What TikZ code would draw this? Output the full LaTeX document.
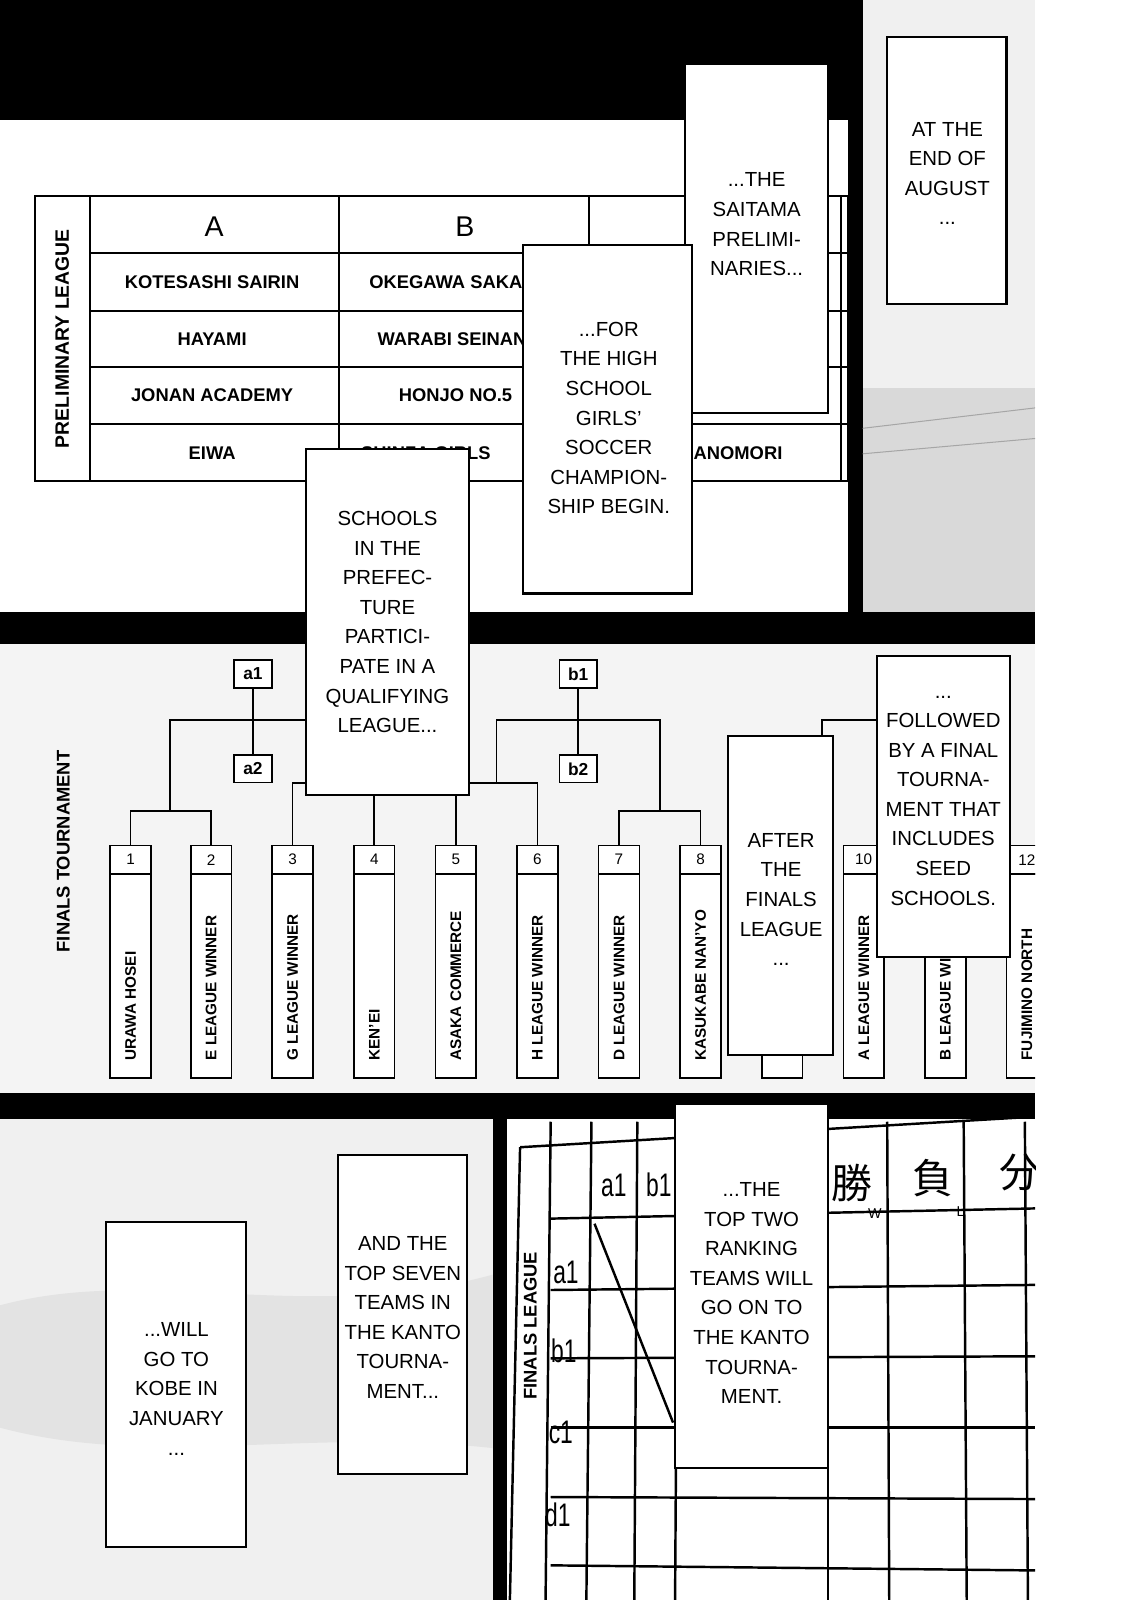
\documentclass[tikz,border=0pt]{standalone}
\usepackage{fontspec}
\setmainfont{Liberation Sans}
\newfontfamily\jpfont{Noto Sans CJK JP}
\begin{document}
\begin{tikzpicture}[x=1pt,y=-1pt,
  bub/.style={draw,line width=2pt,fill=white},
  btxt/.style={align=center,font=\fontsize{20}{29}\selectfont,inner sep=0},
  cell/.style={font=\bfseries\fontsize{18}{20}\selectfont,inner sep=0},
  tl/.style={line width=2pt},
  team/.style={draw,line width=1.6pt,fill=white},
  tname/.style={rotate=90,font=\bfseries\fontsize{15}{18}\selectfont,inner sep=0},
  tnum/.style={font=\fontsize{15}{18}\selectfont,inner sep=0},
  gl/.style={line width=2.4pt}]
\useasboundingbox (0,0) rectangle (1102,1569);
\fill[black] (0,0) rectangle (1102,1569);
\fill[white] (1015,0) rectangle (1102,1569);
% panel 1
\fill[white] (0,118) rectangle (832,600);
\fill[gray!12] (846,0) rectangle (1015,600);
\fill[gray!30] (846,380) rectangle (1015,600);
\draw[line width=1pt,gray!70] (846,420) -- (1015,400) (846,445) -- (1015,430);
\draw[tl] (34,192) rectangle (832,472);
\foreach \x in {88,332,578,825} \draw[tl] (\x,192) -- (\x,472);
\foreach \y in {248,305,360,416} \draw[tl] (88,\y) -- (832,\y);
\node[rotate=90,font=\bfseries\fontsize{19}{22}\selectfont] (pl) at (61,332) {PRELIMINARY LEAGUE};
\node[font=\fontsize{28}{30}\selectfont] (hA) at (210,222) {A};
\node[font=\fontsize{28}{30}\selectfont] (hB) at (456,222) {B};
\node[cell] (a1c) at (208,277) {KOTESASHI SAIRIN};
\node[cell] (a2c) at (208,333) {HAYAMI};
\node[cell] (a3c) at (208,388) {JONAN ACADEMY};
\node[cell] (a4c) at (208,444) {EIWA};
\node[cell,anchor=west] (b1c) at (362,277) {OKEGAWA SAKAE};
\node[cell,anchor=west] (b2c) at (370,333) {WARABI SEINAN};
\node[cell,anchor=west] (b3c) at (391,388) {HONJO NO.5};
\node[cell,anchor=west] (b4c) at (354,444) {SHINZA GIRLS};
\node[cell,anchor=west] (c4c) at (680,444) {ANOMORI};
% bubbles top
\draw[bub] (870,36) rectangle (987,298);
\node[btxt] (t1) at (929,170) {AT THE\\END OF\\AUGUST\\...};
\draw[bub] (672,63) rectangle (812,405);
\node[btxt] (t2) at (742,220) {...THE\\SAITAMA\\PRELIMI-\\NARIES...};
\draw[bub] (513,240) rectangle (679,582);
\node[btxt] (t3) at (597,410) {...FOR\\THE HIGH\\SCHOOL\\GIRLS'\\SOCCER\\CHAMPION-\\SHIP BEGIN.};
% middle panel
\fill[gray!9] (0,632) rectangle (1015,1072);
\begin{scope}
\clip (0,632) rectangle (1015,1072);
\node[rotate=90,font=\bfseries\fontsize{18}{22}\selectfont] (ft) at (62,835) {FINALS TOURNAMENT};
\draw[line width=1.6pt] (128,829) -- (128,795) -- (207,795) -- (207,829)
  (167,795) -- (167,706) -- (327,706) -- (327,768)
  (287,829) -- (287,768) -- (367,768) -- (367,829)
  (447,829) -- (447,768) -- (527,768) -- (527,829)
  (487,768) -- (487,706) -- (647,706) -- (647,795)
  (607,829) -- (607,795) -- (687,795) -- (687,829)
  (806,735) -- (806,706) -- (860,706);
\node[draw,line width=1.6pt,fill=white,minimum width=37,minimum height=27,font=\bfseries\fontsize{17}{18}\selectfont] (ka1) at (248,661) {a1};
\node[draw,line width=1.6pt,fill=white,minimum width=37,minimum height=27,font=\bfseries\fontsize{17}{18}\selectfont] (ka2) at (248,754) {a2};
\node[draw,line width=1.6pt,fill=white,minimum width=37,minimum height=27,font=\bfseries\fontsize{17}{18}\selectfont] (kb1) at (567,661) {b1};
\node[draw,line width=1.6pt,fill=white,minimum width=37,minimum height=27,font=\bfseries\fontsize{17}{18}\selectfont] (kb2) at (567,754) {b2};
\draw[line width=1.6pt] (ka1) -- (ka2) (kb1) -- (kb2);
\foreach \i/\x/\n in {1/128/URAWA HOSEI,2/207/E LEAGUE WINNER,3/287/G LEAGUE WINNER,4/367/KEN'EI,5/447/ASAKA COMMERCE,6/527/H LEAGUE WINNER,7/607/D LEAGUE WINNER,8/687/KASUKABE NAN'YO,10/847/A LEAGUE WINNER,11/927/B LEAGUE WINNER,12/1007/FUJIMINO NORTH}{
  \draw[team] (\x-20,829) rectangle (\x+20,857);
  \draw[team] (\x-20,857) rectangle (\x+20,1057);
  \node[tnum] (n\i) at (\x,843) {\i};
  \node[tname,anchor=west] (m\i) at (\x,1040) {\n};
}
\draw[team] (747,1000) rectangle (787,1057);
\end{scope}
\draw[bub] (300,440) rectangle (460,780);
\node[btxt] (t4) at (380,610) {SCHOOLS\\IN THE\\PREFEC-\\TURE\\PARTICI-\\PATE IN A\\QUALIFYING\\LEAGUE...};
\draw[bub] (714,722) rectangle (817,1035);
\node[btxt] (t5) at (766,882) {AFTER\\THE\\FINALS\\LEAGUE\\...};
\draw[bub] (860,643) rectangle (990,938);
\node[btxt] (t6) at (925,785) {...\\FOLLOWED\\BY A FINAL\\TOURNA-\\MENT THAT\\INCLUDES\\SEED\\SCHOOLS.};
% bottom left
\fill[gray!12] (0,1097) rectangle (483,1569);
\fill[gray!22] (0,1280) .. controls (150,1240) and (300,1300) .. (483,1250) -- (483,1420) .. controls (300,1400) and (150,1440) .. (0,1400) -- cycle;
\draw[bub] (104,1198) rectangle (241,1517);
\node[btxt] (t7) at (173,1362) {...WILL\\GO TO\\KOBE IN\\JANUARY\\...};
\draw[bub] (331,1133) rectangle (458,1445);
\node[btxt] (t8) at (395,1292) {AND THE\\TOP SEVEN\\TEAMS IN\\THE KANTO\\TOURNA-\\MENT...};
% bottom right
\fill[white] (497,1097) rectangle (1015,1569);
\begin{scope}
\clip (497,1097) rectangle (1015,1569);
\draw[gl] (510,1125) -- (1015,1095);
\foreach \y/\z in {1195/1185,1265/1260,1332/1330,1400/1400,1468/1470,1535/1540}
  \draw[gl] (540,\y) -- (1015,\z);
\draw[gl] (510,1125) -- (500,1569);
\foreach \x/\z in {540/535,580/575,625/622,665/662,812/812,870/872,945/948,1005/1008}
  \draw[gl] (\x,1100) -- (\z,1569);
\draw[gl] (583,1200) -- (660,1395);
\node[rotate=90,font=\bfseries\fontsize{18}{22}\selectfont] (fl) at (520,1300) {FINALS LEAGUE};
\foreach \t/\x/\y in {a1/602/1162,b1/646/1162,a1/555/1248,b1/553/1325,c1/550/1405,d1/547/1485}
  \node[font=\fontsize{32}{34}\selectfont,xscale=0.7] at (\x,\y) {\t};
\node[font=\jpfont\fontsize{40}{40}\selectfont] (w) at (835,1160) {勝};
\node[font=\fontsize{14}{14}\selectfont] at (858,1190) {W};
\node[font=\jpfont\fontsize{40}{40}\selectfont] (l) at (915,1155) {負};
\node[font=\fontsize{14}{14}\selectfont] at (942,1188) {L};
\node[font=\jpfont\fontsize{40}{40}\selectfont] (tt) at (1000,1150) {分};
\end{scope}
\draw[bub] (662,1083) rectangle (812,1440);
\node[btxt] (t9) at (737,1268) {...THE\\TOP TWO\\RANKING\\TEAMS WILL\\GO ON TO\\THE KANTO\\TOURNA-\\MENT.};
\end{tikzpicture}
\end{document}
